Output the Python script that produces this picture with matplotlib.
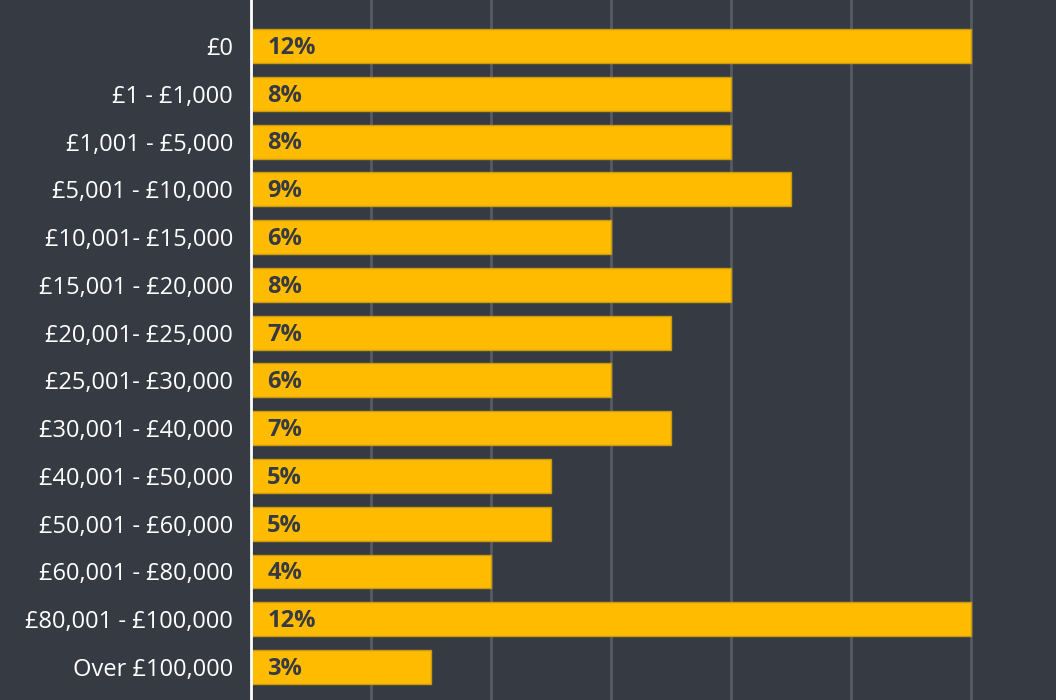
import matplotlib
matplotlib.use("Agg")
import matplotlib.pyplot as plt
import numpy as np

categories = ["£0", "£1 - £1,000", "£1,001 - £5,000", "£5,001 - £10,000",
              "£10,001- £15,000", "£15,001 - £20,000", "£20,001- £25,000",
              "£25,001- £30,000", "£30,001 - £40,000", "£40,001 - £50,000",
              "£50,001 - £60,000", "£60,001 - £80,000", "£80,001 - £100,000",
              "Over £100,000"]
values = [12, 8, 8, 9, 6, 8, 7, 6, 7, 5, 5, 4, 12, 3]
xticks = [2, 4, 6, 8, 10, 12]

bg = "#363a42"
bar_color = "#ffbb00"

plt.rcParams["font.family"] = ["Open Sans", "DejaVu Sans"]

fig = plt.figure(figsize=(10.56, 7), dpi=100, facecolor=bg)
ax = fig.add_axes([251 / 1056, 0, 1 - 251 / 1056, 1])
ax.set_facecolor(bg)

y = np.arange(len(categories))
ax.barh(y, values, height=0.71, color=bar_color, edgecolor="#c99a10",
        linewidth=1, zorder=3)

for yi, v in zip(y, values):
    ax.text(0.27, yi + 0.04, f"{v}%", va="center", ha="left", fontsize=17,
            fontweight="bold", color=bg, zorder=4)

ax.set_xlim(0, 805 / 60)
ax.set_ylim(13.69, -0.963)
ax.set_xticks(xticks)
ax.set_xticklabels([])
ax.tick_params(axis="x", length=0)
ax.grid(axis="x", color="#575b61", linewidth=2, zorder=0)

ax.set_yticks(y)
ax.set_yticklabels(categories, fontsize=17, color="white")
ax.tick_params(axis="y", length=0, pad=13)

for s in ["top", "right", "bottom"]:
    ax.spines[s].set_visible(False)
ax.spines["left"].set_color("white")
ax.spines["left"].set_linewidth(2)
ax.spines["left"].set_zorder(5)

plt.savefig("out.png", dpi=100, facecolor=bg)
